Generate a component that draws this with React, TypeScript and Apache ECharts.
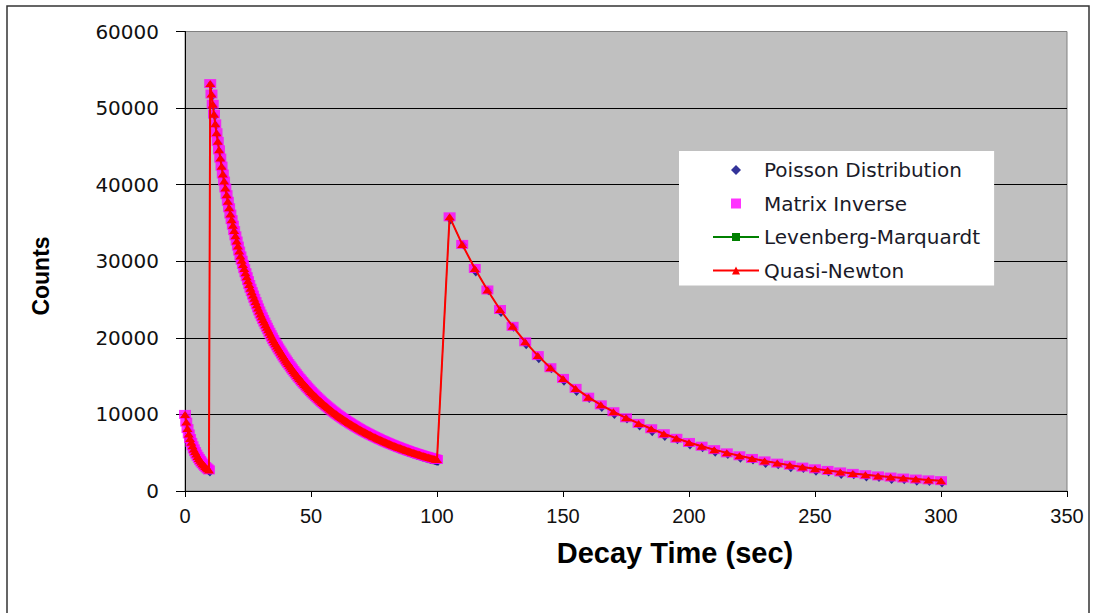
import React, { useEffect, useRef } from "react";
import * as echarts from "echarts";

// Segment 1: counting 0 .. 9.5 s, 0.5 s bins
const seg1Start = 0;
const seg1Step = 0.5;
const seg1Counts = [
  10000, 9000, 8150, 7450, 6850, 6350, 5900, 5500, 5150, 4820,
  4520, 4250, 4000, 3780, 3570, 3380, 3200, 3040, 2890, 2750,
];

// Segment 2: counting 10 .. 100 s, 0.5 s bins
const seg2Start = 10;
const seg2Step = 0.5;
const seg2Counts = [
  53200, 51835, 50505, 49209, 47946, 46786, 45654, 44549, 43471, 42419,
  41392, 40471, 39571, 38691, 37830, 36988, 36165, 35431, 34712, 34008,
  33318, 32642, 31980, 31331, 30695, 30132, 29580, 29038, 28506, 27983,
  27470, 26966, 26472, 26026, 25587, 25156, 24732, 24315, 23905, 23502,
  23106, 22751, 22401, 22056, 21717, 21383, 21054, 20730, 20411, 20097,
  19788, 19503, 19222, 18945, 18672, 18403, 18138, 17877, 17620, 17366,
  17116, 16878, 16643, 16412, 16184, 15959, 15737, 15518, 15302, 15089,
  14879, 14679, 14482, 14288, 14096, 13907, 13721, 13537, 13355, 13176,
  12999, 12831, 12665, 12501, 12339, 12180, 12023, 11868, 11715, 11564,
  11415, 11273, 11133, 10995, 10858, 10723, 10590, 10458, 10328, 10200,
  10073, 9955, 9839, 9724, 9610, 9498, 9387, 9277, 9169, 9062,
  8956, 8851, 8748, 8646, 8545, 8445, 8346, 8249, 8153, 8058,
  7964, 7875, 7787, 7700, 7614, 7529, 7445, 7362, 7280, 7198,
  7117, 7037, 6958, 6880, 6803, 6727, 6652, 6578, 6504, 6431,
  6359, 6289, 6220, 6152, 6085, 6018, 5952, 5887, 5823, 5759,
  5696, 5634, 5572, 5511, 5451, 5391, 5332, 5274, 5216, 5159,
  5103, 5048, 4994, 4941, 4888, 4836, 4784, 4733, 4682, 4632,
  4582, 4533, 4485, 4437, 4390, 4343, 4297, 4251, 4206, 4161,
  4117,
];

// Segment 3: counting 105 .. 300 s, 5 s bins
const seg3Times = [
  105, 110, 115, 120, 125, 130, 135, 140, 145, 150,
  155, 160, 165, 170, 175, 180, 185, 190, 195, 200,
  205, 210, 215, 220, 225, 230, 235, 240, 245, 250,
  255, 260, 265, 270, 275, 280, 285, 290, 295, 300,
];
const seg3Fit = [
  35800, 32200, 29050, 26250, 23700, 21500, 19480, 17680, 16100, 14700,
  13400, 12250, 11250, 10350, 9560, 8830, 8130, 7480, 6880, 6340,
  5850, 5400, 4980, 4600, 4250, 3930, 3640, 3370, 3120, 2900,
  2690, 2490, 2300, 2130, 1970, 1820, 1690, 1560, 1450, 1350,
];
const seg3Measured = [
  35650, 32380, 28870, 26410, 23560, 21640, 19350, 17540, 16230, 14590,
  13250, 12330, 11170, 10240, 9650, 8740, 8010, 7390, 6950, 6270,
  5910, 5330, 5040, 4530, 4300, 3860, 3700, 3310, 3190, 2840,
  2750, 2430, 2370, 2080, 2010, 1770, 1730, 1520, 1490, 1300,
];

const seriesNames = [
  "Poisson Distribution",
  "Matrix Inverse",
  "Levenberg-Marquardt",
  "Quasi-Newton",
];

const pairs = (start: number, step: number, vals: number[]) =>
  vals.map((v, i) => [start + step * i, v]);

const seg1 = pairs(seg1Start, seg1Step, seg1Counts);
const seg2 = pairs(seg2Start, seg2Step, seg2Counts);
const fitData = [...seg1, ...seg2, ...seg3Times.map((t, i) => [t, seg3Fit[i]])];
const measuredData = [
  ...seg1,
  ...seg2,
  ...seg3Times.map((t, i) => [t, seg3Measured[i]]),
];

export default function App() {
  const ref = useRef<HTMLDivElement>(null);
  useEffect(() => {
    if (!ref.current) return;
    const chart = echarts.init(ref.current, undefined, { renderer: "svg" });
    chart.setOption({
      animation: false,
      backgroundColor: "#ffffff",
      grid: {
        left: 185,
        top: 31.5,
        right: 27,
        bottom: 122,
        show: true,
        backgroundColor: "#c0c0c0",
        borderColor: "#808080",
        borderWidth: 1,
      },
      xAxis: {
        type: "value",
        min: 0,
        max: 350,
        interval: 50,
        axisLine: { onZero: false, lineStyle: { color: "#000", width: 1 } },
        axisTick: { show: true, length: 6, lineStyle: { color: "#000" } },
        axisLabel: {
          color: "#111",
          fontFamily: "'Liberation Sans', Arial, sans-serif",
          fontSize: 20,
          margin: 15,
          formatter: (v: number) => String(v),
        },
        splitLine: { show: false },
      },
      yAxis: {
        type: "value",
        min: 0,
        max: 60000,
        interval: 10000,
        axisLine: { show: true, lineStyle: { color: "#000", width: 1 } },
        axisTick: { show: true, length: 9, lineStyle: { color: "#000" } },
        axisLabel: {
          color: "#111",
          fontFamily: "'DejaVu Sans', sans-serif",
          fontSize: 20,
          margin: 26,
          formatter: (v: number) => String(v),
        },
        splitLine: { show: true, showMaxLine: false, lineStyle: { color: "#000", width: 1 } },
      },
      legend: {
        orient: "vertical",
        left: 679,
        top: 151,
        padding: [9, 14, 5, 33],
        backgroundColor: "#ffffff",
        itemWidth: 46,
        itemHeight: 10,
        itemGap: 13.5,
        symbolKeepAspect: true,
        textStyle: {
          fontFamily: "'DejaVu Sans', sans-serif",
          fontSize: 20,
          lineHeight: 20,
          color: "#1a1a28",
        },
        data: [
          { name: seriesNames[0], icon: "path://M5,0L10,5L5,10L0,5Z" },
          { name: seriesNames[1], icon: "path://M0,0L10,0L10,10L0,10Z" },
          { name: seriesNames[2] },
          { name: seriesNames[3] },
        ],
      },
      series: [
        {
          name: seriesNames[0],
          type: "scatter",
          data: measuredData,
          symbol: "diamond",
          symbolSize: [8, 9],
          symbolOffset: [1, 2],
          itemStyle: { color: "#000080" },
          z: 2,
        },
        {
          name: seriesNames[1],
          type: "scatter",
          data: fitData,
          symbol: "rect",
          symbolSize: [12, 9],
          itemStyle: { color: "#ff00ff" },
          z: 3,
        },
        {
          name: seriesNames[2],
          type: "line",
          data: fitData,
          showSymbol: true,
          showAllSymbol: true,
          symbol: "rect",
          symbolSize: 3,
          itemStyle: { color: "#008000" },
          lineStyle: { color: "#008000", width: 1 },
          z: 4,
        },
        {
          name: seriesNames[3],
          type: "line",
          data: fitData,
          showSymbol: true,
          showAllSymbol: true,
          symbol: "triangle",
          symbolSize: [10, 7],
          itemStyle: { color: "#ff0000" },
          lineStyle: { color: "#ff0000", width: 2 },
          z: 5,
        },
      ],
      graphic: [
        {
          type: "rect",
          shape: { x: 7, y: 6, width: 1082, height: 640 },
          style: { fill: "none", stroke: "#333", lineWidth: 1.5 },
          silent: true,
        },
        {
          type: "text",
          x: 41,
          y: 276,
          rotation: Math.PI / 2,
          style: {
            text: "Counts",
            font: "bold 23px 'Liberation Sans', Arial, sans-serif",
            fill: "#000",
            textAlign: "center",
            textVerticalAlign: "middle",
          },
        },
        {
          type: "text",
          x: 675,
          y: 553,
          style: {
            text: "Decay Time (sec)",
            font: "bold 29px 'Liberation Sans', Arial, sans-serif",
            fill: "#000",
            textAlign: "center",
            textVerticalAlign: "middle",
          },
        },
      ],
    });
    return () => chart.dispose();
  }, []);
  return (
    <div
      ref={ref}
      style={{ position: "fixed", left: 0, top: 0, width: 1094, height: 613 }}
    />
  );
}
